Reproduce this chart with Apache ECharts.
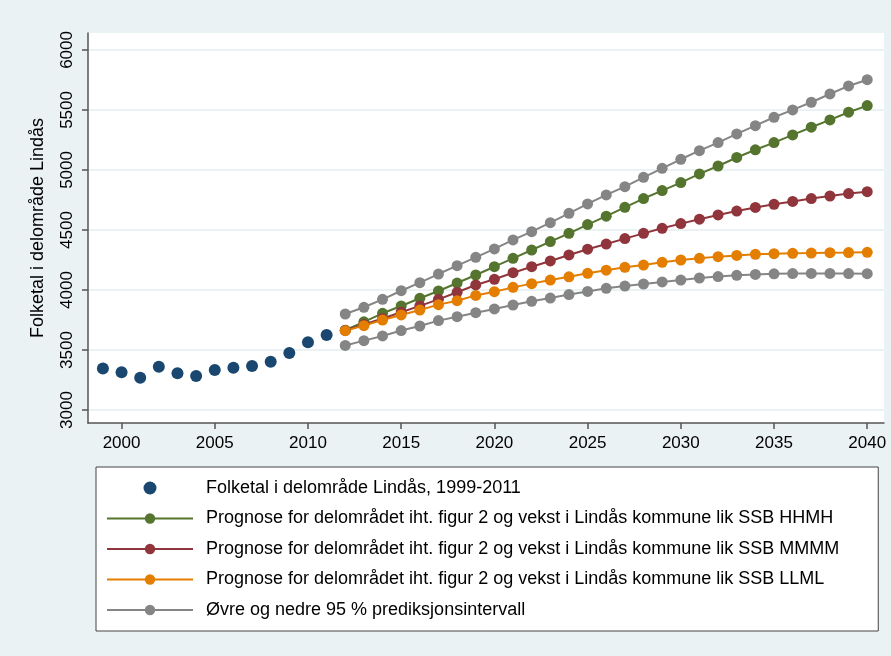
<!DOCTYPE html>
<html>
<head>
<meta charset="utf-8">
<script src="https://cdn.jsdelivr.net/npm/echarts@6/dist/echarts.min.js"></script>
<style>
  html, body { margin: 0; padding: 0; background: #eaf2f3; }
  #chart { width: 891px; height: 656px; }
</style>
</head>
<body>
<div id="chart"></div>
<script>
// observed population 1999-2011
const histYears = [1999, 2000, 2001, 2002, 2003, 2004, 2005, 2006, 2007, 2008, 2009, 2010, 2011];
const histValues = [3347, 3314, 3269, 3361, 3306, 3283, 3333, 3353, 3367, 3403, 3475, 3564, 3625];

// projections 2012-2040
const progYears = [2012, 2013, 2014, 2015, 2016, 2017, 2018, 2019, 2020, 2021, 2022, 2023, 2024, 2025, 2026,
  2027, 2028, 2029, 2030, 2031, 2032, 2033, 2034, 2035, 2036, 2037, 2038, 2039, 2040];
const hhmh = [3665, 3735, 3806, 3867, 3931, 3992, 4058, 4125, 4194, 4264, 4333, 4403, 4472, 4545, 4615,
  4689, 4762, 4828, 4895, 4967, 5033, 5104, 5168, 5228, 5292, 5356, 5417, 5481, 5536];
const mmmm = [3663, 3712, 3762, 3815, 3868, 3922, 3981, 4042, 4089, 4144, 4194, 4242, 4292, 4340, 4383,
  4428, 4472, 4514, 4553, 4590, 4625, 4658, 4688, 4714, 4738, 4762, 4783, 4803, 4819];
const llml = [3661, 3703, 3750, 3792, 3833, 3878, 3911, 3955, 3986, 4022, 4053, 4083, 4110, 4139, 4165,
  4189, 4208, 4231, 4250, 4264, 4278, 4288, 4297, 4303, 4306, 4308, 4311, 4312, 4314];
const upper95 = [3800, 3856, 3922, 3994, 4061, 4133, 4203, 4272, 4342, 4417, 4486, 4561, 4639, 4717, 4792,
  4861, 4939, 5014, 5089, 5161, 5228, 5300, 5369, 5439, 5500, 5564, 5633, 5700, 5752];
const lower95 = [3538, 3578, 3617, 3662, 3700, 3745, 3778, 3811, 3842, 3875, 3906, 3933, 3962, 3988, 4014,
  4033, 4050, 4067, 4083, 4100, 4112, 4122, 4130, 4135, 4137, 4138, 4138, 4137, 4136];

const xTicks = [2000, 2005, 2010, 2015, 2020, 2025, 2030, 2035, 2040];
const yTicks = [3000, 3500, 4000, 4500, 5000, 5500, 6000];

const names = [
  'Folketal i delområde Lindås, 1999-2011',
  'Prognose for delområdet iht. figur 2 og vekst i Lindås kommune lik SSB HHMH',
  'Prognose for delområdet iht. figur 2 og vekst i Lindås kommune lik SSB MMMM',
  'Prognose for delområdet iht. figur 2 og vekst i Lindås kommune lik SSB LLML',
  'Øvre og nedre 95 % prediksjonsintervall'
];

function pairs(xs, ys) {
  return xs.map((x, i) => [x, ys[i]]);
}

function lineSeries(name, values, color) {
  return {
    name: name,
    type: 'line',
    data: pairs(progYears, values),
    symbol: 'circle',
    symbolSize: 11,
    lineStyle: { color: color, width: 2 },
    itemStyle: { color: color, opacity: 1 },
    animation: false
  };
}

const myChart = echarts.init(document.getElementById('chart'));
const axisColor = '#555';
myChart.setOption({
  backgroundColor: '#eaf2f3',
  textStyle: { fontFamily: 'Liberation Sans, Arial, sans-serif' },
  grid: {
    left: 88, top: 33, right: 7, bottom: 233,
    show: true, backgroundColor: '#ffffff', borderWidth: 0
  },
  xAxis: {
    type: 'value',
    min: 1998.2,
    max: 2040.9,
    axisLine: { show: true, onZero: false, lineStyle: { color: axisColor, width: 1.5 } },
    axisTick: { show: true, length: 6, customValues: xTicks, lineStyle: { color: axisColor, width: 1.5 } },
    axisLabel: { customValues: xTicks, fontSize: 17, color: '#000', margin: 12, formatter: v => String(v) },
    splitLine: { show: false }
  },
  yAxis: {
    type: 'value',
    min: 2892,
    max: 6141,
    name: 'Folketal i delområde Lindås',
    nameLocation: 'middle',
    nameRotate: 90,
    nameGap: 41,
    nameTextStyle: { fontSize: 18, color: '#000' },
    axisLine: { show: true, lineStyle: { color: axisColor, width: 1.5 } },
    axisTick: { show: true, length: 6, customValues: yTicks, lineStyle: { color: axisColor, width: 1.5 } },
    axisLabel: { customValues: yTicks, rotate: 90, fontSize: 17, color: '#000', margin: 12, formatter: v => String(v) },
    splitLine: { show: true, lineStyle: { color: '#eaf2f3', width: 2 } }
  },
  legend: {
    orient: 'vertical',
    left: 96,
    top: 467,
    backgroundColor: '#ffffff',
    borderColor: '#444',
    borderWidth: 1,
    borderRadius: 0,
    padding: [12, 39, 12, 10],
    itemWidth: 86,
    itemHeight: 13,
    itemGap: 12.5,
    textStyle: { fontSize: 18, lineHeight: 18, color: '#000', padding: [0, 0, 0, 8] },
    data: names
  },
  series: [
    {
      name: names[0],
      type: 'scatter',
      data: pairs(histYears, histValues),
      symbol: 'circle',
      symbolSize: 12,
      itemStyle: { color: '#1a476f', opacity: 1 },
      animation: false
    },
    lineSeries(names[1], hhmh, '#55752f'),
    lineSeries(names[2], mmmm, '#90353b'),
    lineSeries(names[3], llml, '#e37e00'),
    lineSeries(names[4], upper95, '#858585'),
    lineSeries(names[4], lower95, '#858585')
  ]
});
</script>
</body>
</html>
